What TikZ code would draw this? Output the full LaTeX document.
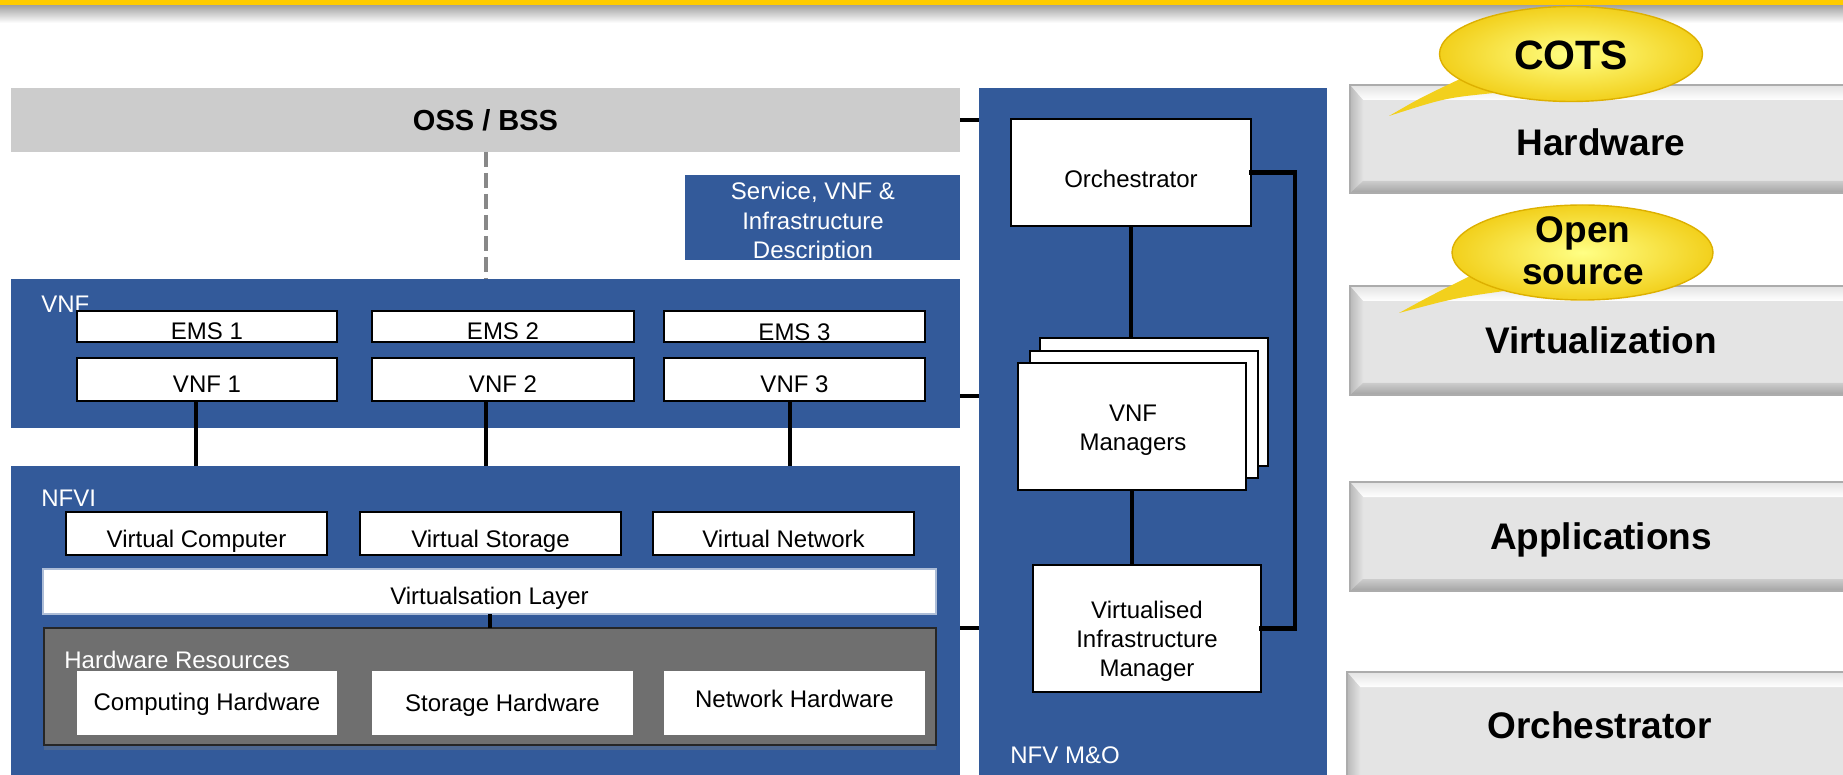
\documentclass[tikz,border=0pt]{standalone}
\usepackage{fontspec}
\setmainfont{Liberation Sans}
\usetikzlibrary{shapes.geometric,shadows}
\definecolor{nfvblue}{HTML}{335A9A}
\definecolor{ossgray}{HTML}{CCCCCC}
\definecolor{hwgray}{HTML}{6F6F6F}
\definecolor{btnface}{HTML}{E4E4E4}
\definecolor{barylw}{HTML}{FFCC00}
\definecolor{bubin}{HTML}{FFFF85}
\definecolor{bubout}{HTML}{F2D01C}
\definecolor{bubedge}{HTML}{DDB000}
\definecolor{dashgray}{HTML}{888888}
\newcommand\rbox[7]{\node[#6, anchor=north west, inner sep=0pt, outer sep=0pt, minimum width={(#4-#2)*0.5pt}, minimum height={(#5-#3)*0.5pt}] (#1) at (#2,#3) {#7};}
\newcommand\bevelbtn[7]{%
  \rbox{#1}{#2}{#3}{#4}{#5}{btn}{}
  \shade[top color=gray!22, bottom color=white] (#1.north west) -- (#1.north east) -- ([yshift=-7.5pt]#1.north east) -- ([xshift=6.5pt,yshift=-7.5pt]#1.north west) -- cycle;
  \shade[left color=gray!55, right color=gray!22] (#1.north west) -- ([xshift=6.5pt,yshift=-7.5pt]#1.north west) -- ([xshift=6.5pt,yshift=6pt]#1.south west) -- (#1.south west) -- cycle;
  \shade[top color=gray!40, bottom color=gray!72] (#1.south west) -- ([xshift=6.5pt,yshift=6pt]#1.south west) -- ([yshift=6pt]#1.south east) -- (#1.south east) -- cycle;
  \draw[gray!65, line width=0.6pt] (#1.north west) rectangle (#1.south east);
  \node[btntext, #7] (#1t) at (#1.center) {#6};}
\tikzset{
  lbl/.style={text=white, font=\fontsize{12}{14.5}\selectfont, inner sep=0pt},
  wtxt/.style={font=\fontsize{12}{14.5}\selectfont, inner sep=0pt, anchor=base},
  wbox/.style={draw=black, line width=1pt, fill=white, font=\fontsize{12}{14.5}\selectfont, text height=12.8pt, text depth=0pt},
  pbox/.style={fill=white, font=\fontsize{12}{14.5}\selectfont, text depth=0pt},
  bluebox/.style={fill=nfvblue},
  conn/.style={line width=2.2pt, black},
  btn/.style={fill=btnface},
  btntext/.style={font=\bfseries\fontsize{18.5}{22}\selectfont, inner sep=0pt, text height=13.2pt, text depth=0pt},
  bubble/.style={ellipse, inner sep=0pt, shade, inner color=bubin, outer color=bubout, draw=bubedge, line width=0.7pt},
  bubtext/.style={font=\bfseries\fontsize{18.5}{22}\selectfont, inner sep=0pt, anchor=base},
}
\begin{document}
\begin{tikzpicture}[x=0.5pt, y=-0.5pt]
\useasboundingbox (0,0) rectangle (1843,775);
\clip (0,0) rectangle (1843,775);
\fill[white] (0,0) rectangle (1843,775);
% top bar
\fill[barylw] (0,0) rectangle (1843,6);
\shade[top color=black!35, bottom color=white] (0,6) rectangle (1843,23);

% coordinates for connectors
\coordinate (cx1) at (196,0);
\coordinate (cx2) at (486,0);
\coordinate (cx3) at (790,0);
\coordinate (cx4) at (490,0);
\coordinate (cy2) at (0,396);
\coordinate (cy3) at (0,628);
\coordinate (loopx) at (1295,0);

% OSS / BSS
\rbox{oss}{11}{88}{960}{152}{fill=ossgray, font=\bfseries\fontsize{14.5}{17}\selectfont, text height=10.9pt, text depth=0pt}{OSS / BSS}
% Service description
\rbox{svc}{685}{175}{960}{260}{bluebox}{}
\node[wtxt, text=white] (svct1) at (813,200) {Service, VNF \&};
\node[wtxt, text=white] (svct2) at (813,230) {Infrastructure};
\node[wtxt, text=white] (svct3) at (813,259) {Description};

% VNF block
\rbox{vnfbox}{11}{279}{960}{428}{bluebox}{}
\node[lbl, anchor=base west] (vnflbl) at (41,313) {VNF};
\rbox{ems1}{77}{311}{337}{342}{wbox}{EMS 1}
\rbox{ems2}{372}{311}{634}{342}{wbox}{EMS 2}
\rbox{ems3}{664}{311}{925}{342}{wbox, text height=13.8pt}{EMS 3}
\rbox{vnf1}{77}{358}{337}{401}{wbox, text height=13.2pt}{VNF 1}
\rbox{vnf2}{372}{358}{634}{401}{wbox, text height=13.2pt}{VNF 2}
\rbox{vnf3}{664}{358}{925}{401}{wbox, text height=13.2pt}{VNF 3}

% NFVI block
\rbox{nfvi}{11}{466}{960}{790}{bluebox}{}
\node[lbl, anchor=base west] (nfvilbl) at (41,506) {NFVI};
\rbox{vcomp}{66}{512}{327}{555}{wbox, text height=13.6pt}{Virtual Computer}
\rbox{vstor}{360}{512}{621}{555}{wbox, text height=13.6pt}{Virtual Storage}
\rbox{vnet}{653}{512}{914}{555}{wbox, text height=13.6pt}{Virtual Network}
\rbox{layer}{43}{569}{936}{614}{pbox, draw=nfvblue!40, line width=0.6pt, text height=13.1pt}{Virtualsation Layer}
\rbox{hw}{44}{628}{936}{745}{fill=hwgray, draw=black!85, line width=1pt, drop shadow={shadow xshift=0pt, shadow yshift=-2.5pt, opacity=0.35}}{}
\node[lbl, anchor=base west] (hwlbl) at (64,668) {Hardware Resources};
\rbox{comphw}{77}{671}{337}{735}{pbox, text height=7.1pt}{Computing Hardware}
\rbox{storhw}{372}{671}{633}{735}{pbox, text height=8.6pt}{Storage Hardware}
\rbox{nethw}{664}{671}{925}{735}{pbox, text height=4.1pt}{Network Hardware}

% NFV M&O block
\rbox{mo}{979}{88}{1327}{790}{bluebox}{}
\node[lbl, anchor=base west] (molbl) at (1010,763) {NFV M\&O};
\rbox{orch}{1011}{119}{1251}{226}{wbox, text height=15.1pt}{Orchestrator}
\rbox{vnfm3}{1040}{338}{1268}{466}{wbox}{}
\rbox{vnfm2}{1030}{351}{1258}{478}{wbox}{}
\rbox{vnfm1}{1018}{363}{1246}{490}{wbox}{}
\node[wtxt] (vnfmt1) at (1133,422) {VNF};
\node[wtxt] (vnfmt2) at (1133,451) {Managers};
\rbox{vim}{1033}{565}{1261}{692}{wbox}{}
\node[wtxt] (vimt1) at (1147,618) {Virtualised};
\node[wtxt] (vimt2) at (1147,647) {Infrastructure};
\node[wtxt] (vimt3) at (1147,676) {Manager};

% connectors
\draw[conn] (oss.east) -- (mo.west |- oss.east);
\draw[conn] (vnfbox.east |- cy2) -- (mo.west |- cy2);
\draw[conn] (nfvi.east |- cy3) -- (mo.west |- cy3);
\draw[conn] (vnf1.south -| cx1) -- (nfvi.north -| cx1);
\draw[conn] (vnf2.south -| cx2) -- (nfvi.north -| cx2);
\draw[conn] (vnf3.south -| cx3) -- (nfvi.north -| cx3);
\draw[dashgray, line width=2.4pt, dash pattern=on 7.5pt off 3pt] (oss.south -| cx2) -- (vnfbox.north -| cx2);
\draw[conn] (layer.south -| cx4) -- (hw.north -| cx4);
\draw[conn] (orch.south) -- (orch.south |- vnfm3.north);
\draw[conn] (vnfm1.south) -- (vnfm1.south |- vim.north);
\draw[conn, line cap=rect] (orch.east) -| (loopx |- vim.east) -- (vim.east);

% right-hand buttons
\bevelbtn{bhw}{1350}{85}{1852}{193}{Hardware}{text height=16.2pt}
\bevelbtn{bvirt}{1350}{286}{1852}{395}{Virtualization}{}
\bevelbtn{bapp}{1350}{482}{1852}{591}{Applications}{}
\bevelbtn{borch}{1347}{672}{1852}{790}{Orchestrator}{text height=7.7pt}

% speech bubbles
\fill[bubout] (1389,116) .. controls (1420,98) .. (1460,79) -- (1525,68) -- (1494,93) .. controls (1445,98) .. (1389,116) -- cycle;
\node[bubble, minimum width=131.5pt, minimum height=47.5pt] (cots) at (1571,54) {};
\node[bubtext, font=\bfseries\fontsize{20.5}{24}\selectfont] (cotst) at (1571,70) {COTS};
\fill[bubout] (1399,313) .. controls (1430,296) .. (1470,276) -- (1535,265) -- (1504,291) .. controls (1455,298) .. (1399,313) -- cycle;
\node[bubble, minimum width=130.5pt, minimum height=47.5pt] (opensrc) at (1582.5,252.5) {};
\node[bubtext] (opent1) at (1583,243) {Open};
\node[bubtext] (opent2) at (1583,285) {source};
\end{tikzpicture}
\end{document}
